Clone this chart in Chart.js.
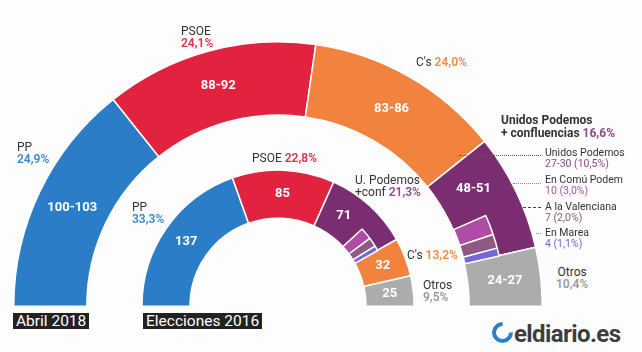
<!DOCTYPE html>
<html>
<head>
<meta charset="utf-8">
<script src="https://cdn.jsdelivr.net/npm/chart.js@4"></script>
<style>
  body { margin: 0; background: #fdfdfd; font-family: Roboto, sans-serif; }
  #wrap { position: relative; width: 642px; height: 352px; overflow: hidden; }
  .cv { position: absolute; left: 13px; top: 41px; }
  .t { position: absolute; font-size: 12px; line-height: 12px; color: #333; white-space: nowrap; }
  .t b { font-weight: 600; }
  .s { font-size: 10.5px; line-height: 11px; }
  .b { font-weight: bold; }
  .tag { position: absolute; top: 313px; height: 16px; background: #222; color: #fff; font-size: 15.5px; line-height: 16px; padding: 0 3px; }
  .lead { position: absolute; height: 0; border-top: 1px dotted #555; }
  #logo { position: absolute; left: 492px; top: 320px; font-size: 24px; font-weight: bold; color: #3d3d3d; letter-spacing: -0.6px; }
  #logo span { display: inline-block; width: 13px; height: 13px; border: 4px solid #2a7fc9; border-top-color: transparent; border-radius: 50%; margin-right: 1px; vertical-align: -1px; transform: rotate(45deg); }
</style>
</head>
<body>
<div id="wrap">
  <canvas id="base" class="cv" width="530" height="266"></canvas>
  <canvas id="top" class="cv" width="530" height="266"></canvas>

  <div class="t" style="left:17px;top:141px">PP<br><b style="color:#3a87cf">24,9%</b></div>
  <div class="t" style="left:181px;top:25px">PSOE<br><b style="color:#e0304a">24,1%</b></div>
  <div class="t" style="left:416px;top:56px">C's <b style="color:#f28a45">24,0%</b></div>
  <div class="t b" style="left:501px;top:114px;line-height:13px">Unidos Podemos<br>+ confluencias <span style="color:#8e4a8a">16,6%</span></div>
  <div class="t" style="left:556px;top:266px;text-align:center">Otros<br><b style="color:#9a9a9a">10,4%</b></div>

  <div class="t s" style="left:545px;top:147px">Unidos Podemos<br><span style="color:#8e4a8a">27-30 (10,5%)</span></div>
  <div class="t s" style="left:545px;top:174px">En Comú Podem<br><span style="color:#a25aa0">10 (3,0%)</span></div>
  <div class="t s" style="left:545px;top:201px">A la Valenciana<br><span style="color:#8a5a80">7 (2,0%)</span></div>
  <div class="t s" style="left:545px;top:227px">En Marea<br><span style="color:#6f66c9">4 (1,1%)</span></div>
  <div class="lead" style="left:459px;top:155px;width:82px"></div>
  <div class="lead" style="left:513px;top:183px;width:28px;border-color:#888"></div>
  <div class="lead" style="left:523px;top:207px;width:18px;border-top-style:dashed;border-color:#444"></div>
  <div class="lead" style="left:536px;top:233px;width:5px;border-color:#888"></div>

  <div class="t" style="left:132px;top:201px">PP<br><b style="color:#3a87cf">33,3%</b></div>
  <div class="t" style="left:252px;top:152px">PSOE <b style="color:#e0304a">22,8%</b></div>
  <div class="t" style="left:355px;top:174px">U. Podemos<br>+conf <b style="color:#8e4a8a">21,3%</b></div>
  <div class="t" style="left:407px;top:249px">C's <b style="color:#f28a45">13,2%</b></div>
  <div class="t" style="left:423px;top:279px">Otros<br><b style="color:#9a9a9a">9,5%</b></div>

  <div class="tag" style="left:13px">Abril 2018</div>
  <div class="tag" style="left:143px">Elecciones 2016</div>
  <div id="logo"><span></span>eldiario.es</div>
</div>
<script>
const parties2018 = ['PP', 'PSOE', "C's", 'Unidos Podemos', 'Otros'];
const seats2018 = [100, 91, 84, 50, 25];
const seatLabels2018 = ['100-103', '88-92', '83-86', '48-51', '24-27'];
const parties2016 = ['PP', 'PSOE', 'Unidos Podemos', "C's", 'Otros'];
const seats2016 = [137, 85, 71, 32, 25];
const seatLabels2016 = ['137', '85', '71', '32', '25'];
const confluencias = ['En Comú Podem', 'A la Valenciana', 'En Marea'];
const confSeats2018 = [10, 7, 4];
const confSeats2016 = [12, 9, 5];

const colors2018 = ['#2b7dc8', '#e2233f', '#f1833f', '#7b2d72', '#acacac'];
const colors2016 = ['#2b7dc8', '#e2233f', '#7b2d72', '#f1833f', '#acacac'];
const confColors = ['#b04ca6', '#8c5a84', '#7467d6'];
const clear = 'rgba(0,0,0,0)';

const sum = arr => arr.reduce((a, b) => a + b, 0);

// 2018 with confluencias split off the purple slice (inside ring only)
const split2018 = [seats2018[0], seats2018[1], seats2018[2], seats2018[3] - sum(confSeats2018), ...confSeats2018, seats2018[4]];
const split2018Labels = [seatLabels2018[0], seatLabels2018[1], seatLabels2018[2], seatLabels2018[3], '', '', '', seatLabels2018[4]];
const split2016 = [seats2016[0], seats2016[1], seats2016[2] - sum(confSeats2016), ...confSeats2016, seats2016[3], seats2016[4]];
const split2016Labels = [seatLabels2016[0], seatLabels2016[1], seatLabels2016[2], '', '', '', seatLabels2016[3], seatLabels2016[4]];
const boxColors = [clear, clear, clear, clear, ...confColors, clear];
const boxColors2016 = [clear, clear, clear, ...confColors, clear, clear];

const common = {
  type: 'doughnut',
  options: {
    responsive: false,
    animation: false,
    events: [],
    rotation: -90,
    circumference: 180,
    cutout: '33.3%',
    layout: { padding: 0 },
    plugins: { legend: { display: false }, tooltip: { enabled: false } }
  }
};

new Chart(document.getElementById('base'), {
  ...common,
  data: {
    labels: parties2018,
    datasets: [
      { data: seats2018, backgroundColor: colors2018, borderColor: '#fff', borderWidth: 1.5, weight: 73 },
      { data: [1], backgroundColor: [clear], borderWidth: 0, weight: 55 },
      { data: seats2016, backgroundColor: colors2016, borderColor: '#fff', borderWidth: 1.5, weight: 48 }
    ]
  }
});

const valueLabels = {
  id: 'valueLabels',
  afterDatasetsDraw(chart) {
    const ctx = chart.ctx;
    ctx.save();
    ctx.font = 'bold 13px Roboto';
    ctx.fillStyle = '#fff';
    ctx.textAlign = 'center';
    ctx.textBaseline = 'middle';
    [[0, 1, split2018Labels], [3, 4, split2016Labels]].forEach(([outerIdx, innerIdx, texts]) => {
      const outer = chart.getDatasetMeta(outerIdx).data[0];
      chart.getDatasetMeta(innerIdx).data.forEach((arc, i) => {
        if (!texts[i]) return;
        const a = (arc.startAngle + arc.endAngle) / 2;
        const r = (arc.innerRadius + outer.outerRadius) / 2;
        ctx.fillText(texts[i], arc.x + Math.cos(a) * r, arc.y + Math.sin(a) * r);
      });
    });
    ctx.restore();
  }
};

new Chart(document.getElementById('top'), {
  ...common,
  data: {
    labels: [...parties2018.slice(0, 4), ...confluencias, 'Otros'],
    datasets: [
      { data: seats2018, backgroundColor: clear, borderWidth: 0, weight: 38 },
      { data: split2018, backgroundColor: boxColors, borderColor: boxColors.map(c => c === clear ? clear : '#fff'), borderWidth: 1.5, weight: 35 },
      { data: [1], backgroundColor: [clear], borderWidth: 0, weight: 55 },
      { data: seats2016, backgroundColor: clear, borderWidth: 0, weight: 22 },
      { data: split2016, backgroundColor: boxColors2016, borderColor: boxColors2016.map(c => c === clear ? clear : '#fff'), borderWidth: 1.5, weight: 26 }
    ]
  },
  plugins: [valueLabels]
});
</script>
</body>
</html>
